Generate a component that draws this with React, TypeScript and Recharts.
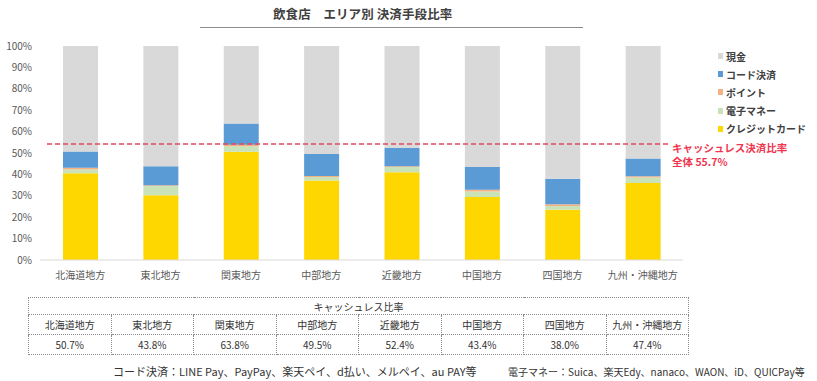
import React from 'react';
import { BarChart, Bar, XAxis, YAxis, ReferenceLine } from 'recharts';

const categories = ['北海道地方', '東北地方', '関東地方', '中部地方', '近畿地方', '中国地方', '四国地方', '九州・沖縄地方'];
const credit = [40.5, 30.3, 50.6, 37.1, 41.0, 29.4, 23.5, 36.0];
const emoney = [1.8, 4.3, 2.6, 1.7, 2.5, 2.6, 1.7, 2.5];
const point = [0.8, 0.3, 0.6, 0.5, 0.3, 0.8, 0.8, 0.6];
const code = [7.6, 8.9, 10.0, 10.2, 8.6, 10.6, 12.0, 8.3];
const cash = [49.3, 56.2, 36.2, 50.5, 47.6, 56.6, 62.0, 52.6];
const cashlessRates = ['50.7%', '43.8%', '63.8%', '49.5%', '52.4%', '43.4%', '38.0%', '47.4%'];
const yTicks = [0, 10, 20, 30, 40, 50, 60, 70, 80, 90, 100];
const overallLineValue = 54.2;
const overallLabel1 = 'キャッシュレス決済比率';
const overallLabel2 = '全体 55.7%';

const series = [
  { key: 'credit', name: 'クレジットカード', color: '#FFD700' },
  { key: 'emoney', name: '電子マネー', color: '#C9E2B8' },
  { key: 'point', name: 'ポイント', color: '#F4B183' },
  { key: 'code', name: 'コード決済', color: '#5B9BD5' },
  { key: 'cash', name: '現金', color: '#D9D9D9' },
];

const data = categories.map((c, i) => ({
  name: c,
  credit: credit[i],
  emoney: emoney[i],
  point: point[i],
  code: code[i],
  cash: cash[i],
}));

const FONT = '"Noto Sans CJK JP", "Noto Sans", sans-serif';

const RefShape = (props: any) => {
  const { x1, x2, y1, y2 } = props;
  const xs = x1 + 7;
  const xe = x2 - 15;
  return (
    <g>
      <line x1={xs} y1={y1} x2={xe} y2={y2} stroke="#E8475A" strokeWidth={1.5} strokeDasharray="5 3" />
      <text x={xe + 4} y={y1 + 8} fill="#F0364F" fontSize={10.5} fontWeight={700} fontFamily={FONT}>{overallLabel1}</text>
      <text x={xe + 4} y={y1 + 22} fill="#F0364F" fontSize={10.5} fontWeight={700} fontFamily={FONT}>{overallLabel2}</text>
    </g>
  );
};

const cellStyle: React.CSSProperties = {
  border: '1px dotted #8c8c8c',
  textAlign: 'center',
  padding: 0,
  fontSize: 10,
  color: '#333',
  height: 19,
};

export default function App() {
  const legendOrder = [...series].reverse();
  return (
    <div style={{ position: 'absolute', left: 0, top: 0, width: 817, height: 381, background: '#fff', fontFamily: FONT, overflow: 'hidden' }}>
      <div style={{ position: 'absolute', left: 273, top: 4, fontSize: 12.5, fontWeight: 700, color: '#404040', letterSpacing: 0.1, whiteSpace: 'nowrap' }}>
        飲食店　エリア別 決済手段比率
      </div>
      <div style={{ position: 'absolute', left: 200, width: 383, top: 27, height: 1, background: '#8c8c8c' }} />
      <div style={{ position: 'absolute', left: 0, top: 0 }}>
        <BarChart width={817} height={290} data={data} margin={{ top: 46, right: 134, bottom: 0, left: 0 }} barSize={35}>
          <YAxis
            domain={[0, 100]}
            ticks={yTicks}
            interval={0}
            tickFormatter={(v: number) => `${v}%`}
            axisLine={false}
            tickLine={false}
            width={40}
            tick={{ fontSize: 10, fill: '#595959', fontFamily: FONT }}
          />
          <XAxis
            dataKey="name"
            axisLine={{ stroke: '#D9D9D9' }}
            tickLine={false}
            height={30}
            interval={0}
            tickMargin={6}
            tick={{ fontSize: 10, fill: '#595959', fontFamily: FONT }}
          />
          {series.map((s) => (
            <Bar key={s.key} dataKey={s.key} name={s.name} stackId="a" fill={s.color} isAnimationActive={false} />
          ))}
          <ReferenceLine y={overallLineValue} shape={RefShape} ifOverflow="visible" />
        </BarChart>
      </div>
      <div style={{ position: 'absolute', left: 718, top: 47 }}>
        {legendOrder.map((s) => (
          <div key={s.key} style={{ display: 'flex', alignItems: 'center', height: 18.2, fontSize: 10, color: '#404040', fontWeight: 700 }}>
            <span style={{ display: 'inline-block', width: 5, height: 6, background: s.color, marginRight: 3 }} />
            {s.name}
          </div>
        ))}
      </div>
      <table style={{ position: 'absolute', left: 28, top: 297, width: 661, borderCollapse: 'collapse', tableLayout: 'fixed', fontFamily: FONT }}>
        <tbody>
          <tr>
            <td colSpan={8} style={{ ...cellStyle, height: 16 }}>キャッシュレス比率</td>
          </tr>
          <tr>
            {categories.map((c) => (
              <td key={c} style={cellStyle}>{c}</td>
            ))}
          </tr>
          <tr>
            {cashlessRates.map((r, i) => (
              <td key={i} style={cellStyle}>{r}</td>
            ))}
          </tr>
        </tbody>
      </table>
      <div style={{ position: 'absolute', left: 113, top: 363, fontSize: 11, color: '#333', whiteSpace: 'nowrap' }}>
        コード決済：LINE Pay、PayPay、楽天ペイ、d払い、メルペイ、au PAY等
      </div>
      <div style={{ position: 'absolute', left: 508, top: 364, fontSize: 10, letterSpacing: 0, color: '#333', whiteSpace: 'nowrap' }}>
        電子マネー：Suica、楽天Edy、nanaco、WAON、iD、QUICPay等
      </div>
    </div>
  );
}
